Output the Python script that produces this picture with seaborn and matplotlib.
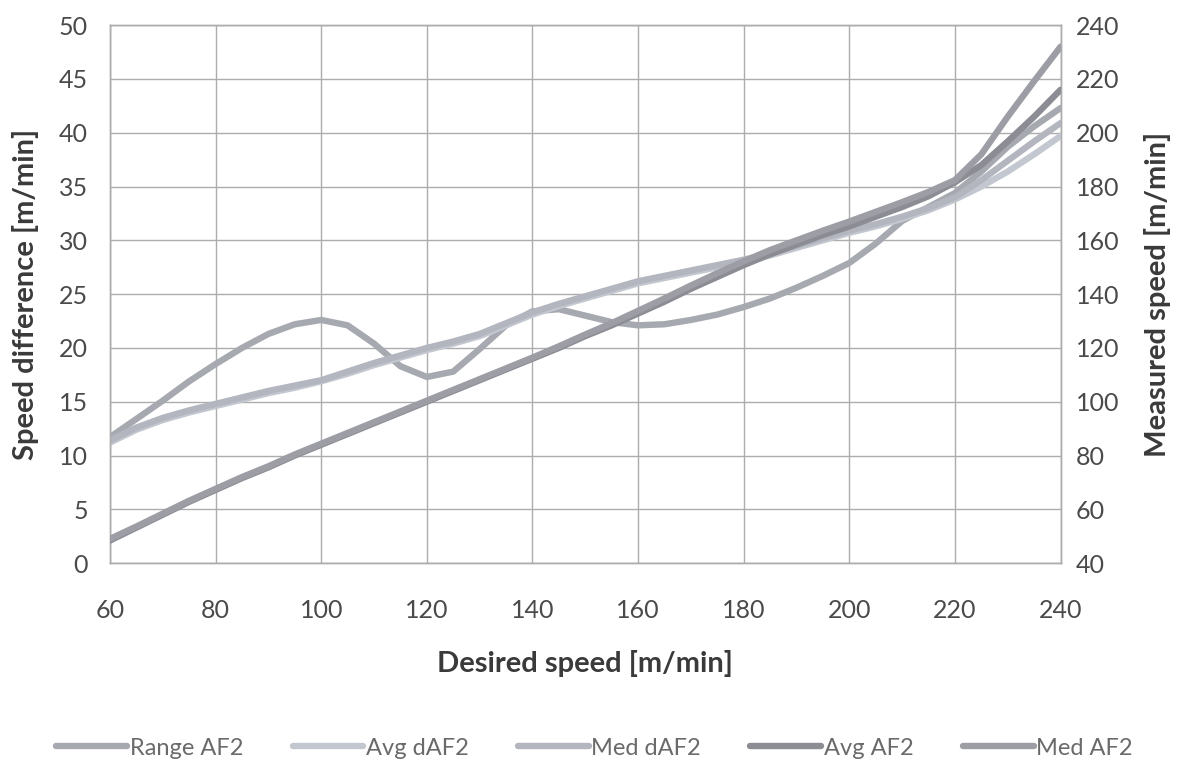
import numpy as np
import pandas as pd
import matplotlib
matplotlib.use("Agg")
import matplotlib.pyplot as plt
import seaborn as sns

# ---------------- data ----------------
speeds = [60, 65, 70, 75, 80, 85, 90, 95, 100, 105, 110, 115, 120, 125, 130, 135, 140,
          145, 150, 155, 160, 165, 170, 175, 180, 185, 190, 195, 200, 205, 210, 215,
          220, 225, 230, 235, 240]

range_af2 = [11.7, 13.4, 15.1, 16.9, 18.5, 20.0, 21.3, 22.2, 22.6, 22.1, 20.4, 18.3,
             17.3, 17.8, 19.9, 22.1, 23.4, 23.6, 23.0, 22.4, 22.1, 22.2, 22.6, 23.1,
             23.8, 24.6, 25.6, 26.7, 27.9, 29.7, 31.8, 33.1, 34.4, 36.4, 38.7, 40.6, 42.3]

avg_daf2 = [11.2, 12.4, 13.3, 14.0, 14.6, 15.2, 15.8, 16.3, 16.9, 17.6, 18.4, 19.1,
            19.8, 20.4, 21.1, 22.1, 23.1, 23.9, 24.6, 25.3, 26.0, 26.5, 27.0, 27.5,
            28.0, 28.6, 29.3, 30.0, 30.7, 31.3, 32.0, 32.8, 33.8, 35.0, 36.4, 38.0, 39.7]

med_daf2 = [11.4, 12.6, 13.5, 14.2, 14.8, 15.4, 16.0, 16.5, 17.0, 17.8, 18.6, 19.3,
            20.0, 20.6, 21.3, 22.3, 23.3, 24.1, 24.8, 25.5, 26.2, 26.7, 27.2, 27.7,
            28.2, 28.8, 29.5, 30.2, 30.9, 31.5, 32.2, 33.0, 34.0, 35.6, 37.4, 39.2, 40.9]

avg_af2 = [48.4, 53.2, 58.0, 62.8, 67.2, 71.6, 75.6, 80.0, 84.0, 88.0, 92.0, 96.0,
           100.0, 104.0, 108.0, 112.0, 116.0, 120.0, 124.4, 128.4, 132.8, 137.2, 142.0,
           146.4, 150.8, 154.8, 158.4, 162.0, 165.2, 168.8, 172.4, 176.4, 181.6, 188.0,
           196.8, 206.0, 216.0]

med_af2 = [49.0, 53.6, 58.4, 63.2, 67.6, 72.0, 76.0, 80.4, 84.4, 88.4, 92.4, 96.4,
           100.4, 104.4, 108.4, 112.4, 116.4, 120.6, 125.0, 129.2, 133.8, 138.4, 143.2,
           147.8, 152.2, 156.4, 160.0, 163.6, 167.0, 170.6, 174.2, 178.0, 182.4, 192.0,
           206.0, 219.2, 232.0]

series_names = ["Range AF2", "Avg dAF2", "Med dAF2", "Avg AF2", "Med AF2"]
left_ticks = [0, 5, 10, 15, 20, 25, 30, 35, 40, 45, 50]
right_ticks = [40, 60, 80, 100, 120, 140, 160, 180, 200, 220, 240]
x_ticks = [60, 80, 100, 120, 140, 160, 180, 200, 220, 240]

# ---------------- style ----------------
sns.set_theme(style="white")
plt.rcParams["font.family"] = ["Lato", "DejaVu Sans"]

colors = {
    "Range AF2": "#a7a9b0",
    "Avg dAF2": "#c3c7cf",
    "Med dAF2": "#b3b6be",
    "Avg AF2": "#8b8c94",
    "Med AF2": "#9c9da5",
}

df = pd.DataFrame({"speed": speeds, "Range AF2": range_af2, "Avg dAF2": avg_daf2,
                   "Med dAF2": med_daf2, "Avg AF2": avg_af2, "Med AF2": med_af2})

fig = plt.figure(figsize=(11.89, 7.63), dpi=100)
ax = fig.add_axes([0.0925, 0.262, 0.7995, 0.705])
ax2 = ax.twinx()

lw = 4.6
for name in ["Range AF2", "Avg dAF2", "Med dAF2"]:
    sns.lineplot(data=df, x="speed", y=name, ax=ax, color=colors[name], lw=lw,
                 label=name, legend=False, zorder=3)
for name in ["Avg AF2", "Med AF2"]:
    sns.lineplot(data=df, x="speed", y=name, ax=ax2, color=colors[name], lw=lw,
                 label=name, legend=False, zorder=3)

ax.set_xlim(60, 240)
ax.set_ylim(0, 50)
ax2.set_ylim(40, 240)
ax.set_xticks(x_ticks)
ax.set_yticks(left_ticks)
ax2.set_yticks(right_ticks)

grid_c = "#adadad"
ax.grid(True, color=grid_c, lw=1.0)
ax2.grid(False)
for a in (ax, ax2):
    for s in a.spines.values():
        s.set_color(grid_c)
        s.set_linewidth(1.0)
    a.tick_params(length=0, labelsize=18, colors="#4a4a4a")
ax.tick_params(axis="x", pad=26)
ax.tick_params(axis="y", pad=16)
ax2.tick_params(axis="y", pad=11)

lab_kw = dict(fontsize=21, fontweight="bold", color="#3a3a3a")
ax.set_xlabel("Desired speed [m/min]", labelpad=20, **lab_kw)
ax.set_ylabel("Speed difference [m/min]", labelpad=14, **lab_kw)
ax2.set_ylabel("Measured speed [m/min]", labelpad=18, **lab_kw)

h1, l1 = ax.get_legend_handles_labels()
h2, l2 = ax2.get_legend_handles_labels()
handles = dict(zip(l1 + l2, h1 + h2))
fig.legend([handles[n] for n in series_names], series_names, loc="lower center",
           bbox_to_anchor=(0.5, -0.022), ncol=5, frameon=False, fontsize=17,
           labelcolor="#6a6a6a", handlelength=3.0, handletextpad=0.1, columnspacing=2.1)

fig.savefig("out.png", dpi=100, facecolor="white")
